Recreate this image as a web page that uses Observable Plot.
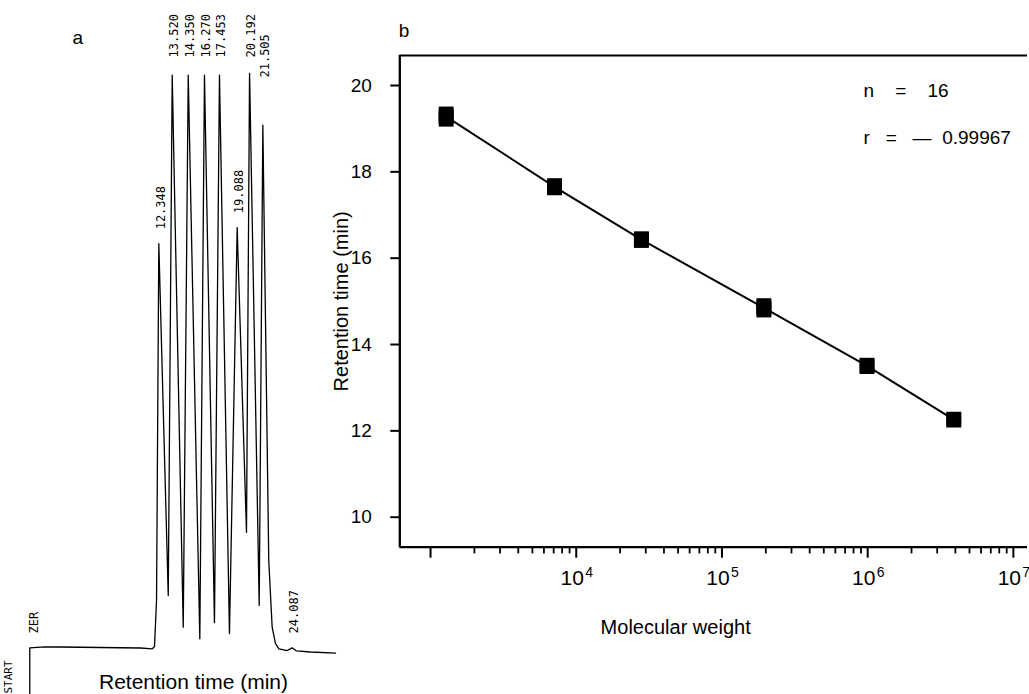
<!DOCTYPE html>
<html>
<head>
<meta charset="utf-8">
<script src="https://cdn.jsdelivr.net/npm/d3@7"></script>
<script src="https://cdn.jsdelivr.net/npm/@observablehq/plot@0.6"></script>
<style>
  html, body { margin: 0; padding: 0; background: #fff; }
  #wrap { position: relative; width: 1029px; height: 694px; overflow: hidden; background: #fff;
          font-family: "Liberation Sans", Arial, Helvetica, sans-serif; }
  #wrap .panel { position: absolute; top: 0; }
</style>
</head>
<body>
<div id="wrap">
  <div id="panelA" class="panel" style="left:0px"></div>
  <div id="panelB" class="panel" style="left:320px"></div>
</div>
<script>
// ---------------- Panel a : chromatogram (integrator trace) ----------------
// retention time (min) and detector signal (% of full scale)
const traceTime   = [0.99, 0.99, 2.30, 3.69, 7.22, 10.74, 11.77, 11.97, 12.15, 12.35, 13.18, 13.53, 14.50, 14.94, 15.96, 16.37, 17.25, 17.69, 18.57, 19.25, 20.07, 20.34, 21.19, 21.51, 22.03, 22.33, 22.62, 22.92, 23.65, 24.09, 24.47, 25.71, 27.91];
const traceSignal = [-8.3, 0.10, 0.30, 0.26, 0.17, 0.09, -0.05, 0.35, 8.4, 70.4, 9.2, 99.7, 3.7, 99.7, 1.7, 99.7, 4.5, 99.7, 2.6, 73.2, 20.2, 100.0, 7.5, 91.0, 15.3, 3.7, 0.9, -0.05, -0.35, 0.12, -0.43, -0.61, -0.82];
// peaks annotated by the integrator: where they sit on the paper, and the printed retention time
const peakTime   = [12.35, 13.53, 14.94, 16.37, 17.69, 19.25, 20.34, 21.51, 24.09];
const peakLabels = ["12.348", "13.520", "14.350", "16.270", "17.453", "19.088", "20.192", "21.505", "24.087"];
const markerLabels = ["START", "ZER"];
const xLabelA = "Retention time (min)";
const panelLetters = ["a", "b"];

// ---------------- Panel b : calibration curve ----------------
const molWeight = [1280, 1280, 1280, 7100, 7100, 7100, 28000, 28000, 28000, 194000, 194000, 194000, 990000, 990000, 3900000, 3900000];
const retTime   = [19.34, 19.28, 19.22, 17.68, 17.65, 17.63, 16.45, 16.43, 16.41, 14.90, 14.85, 14.80, 13.52, 13.49, 12.27, 12.25];
const yTicks = [10, 12, 14, 16, 18, 20];
const xMajorTicks = [1e3, 1e4, 1e5, 1e6, 1e7];
const xLabelledTicks = [1e4, 1e5, 1e6, 1e7];
const xTickBase = "10";
const xTickExponents = ["4", "5", "6", "7"];
const xMinorTicks = [2e3,3e3,4e3,5e3,6e3,7e3,8e3,9e3, 2e4,3e4,4e4,5e4,6e4,7e4,8e4,9e4, 2e5,3e5,4e5,5e5,6e5,7e5,8e5,9e5, 2e6,3e6,4e6,5e6,6e6,7e6,8e6,9e6];
const fitStats = ["n\u00a0\u00a0\u00a0\u00a0=\u00a0\u00a0\u00a0\u00a016", "r\u00a0\u00a0\u00a0=\u00a0\u00a0\u00a0\u2014\u00a0\u00a00.99967"];
const xLabelB = "Molecular weight";
const yLabelB = "Retention time (min)";

// ---------- build panel a ----------
const trace = traceTime.map((t, i) => ({t, s: traceSignal[i]}));
const sig = t => traceSignal[traceTime.indexOf(t)];
const peaks = peakTime.map((t, i) => ({t, s: sig(t), label: peakLabels[i]}));
const labelGap = 2.5; // signal units above the peak
const topRow = 102.8;
// integrator prints labels just above each peak; off-scale peaks get them in the top row,
// and a label squeezed next to a top-row label is dropped just below that row
const peakLabelY = (d, i) => {
  if (d.s >= 99) return topRow;
  const prev = peaks[i - 1];
  if (prev && prev.s >= 99 && d.t - prev.t < 1.5 && d.s > 80) return topRow - 3.5;
  return d.s + labelGap;
};
const peakLabelYs = peaks.map(peakLabelY);

const monoFont = "'DejaVu Sans Mono', 'Liberation Mono', monospace";
const panelA = Plot.plot({
  width: 340, height: 694,
  marginLeft: 0, marginRight: 0, marginTop: 0, marginBottom: 0,
  style: {background: "transparent", overflow: "visible", fontFamily: "'Liberation Sans', Arial, sans-serif"},
  x: {domain: [-1.59, -1.59 + 340 / 11.357], axis: null},
  y: {domain: [-8, 112.7], axis: null},
  marks: [
    Plot.line(trace, {x: "t", y: "s", stroke: "#000", strokeWidth: 1.3, strokeLinejoin: "round"}),
    Plot.text(peaks, {x: "t", y: (d, i) => peakLabelYs[i], text: "label", rotate: -90, textAnchor: "start",
      lineAnchor: "middle", dx: 2, fontSize: 12, fontFamily: monoFont, fill: "#000"}),
    // START marker under the start tick, ZER(O) label next to it
    Plot.text([markerLabels[0]], {x: [traceTime[0]], frameAnchor: "bottom", rotate: -90, textAnchor: "start",
      lineAnchor: "middle", dx: -21, dy: -1, fontSize: 11, fontFamily: monoFont, fill: "#000"}),
    Plot.text([markerLabels[1]], {x: [traceTime[1]], y: [traceSignal[1] + labelGap], rotate: -90, textAnchor: "start",
      lineAnchor: "middle", dx: 4, fontSize: 12, fontFamily: monoFont, fill: "#000"}),
    Plot.text([xLabelA], {frameAnchor: "bottom", dx: 23, dy: -12, lineAnchor: "middle", fontSize: 21, fill: "#000"}),
    Plot.text([panelLetters[0]], {frameAnchor: "top-left", dx: 72, dy: 37, textAnchor: "start", lineAnchor: "middle", fontSize: 19, fill: "#000"})
  ]
});
document.getElementById("panelA").appendChild(panelA);

// ---------- build panel b ----------
const pts = molWeight.map((m, i) => ({mw: m, rt: retTime[i]}));
const xDomain = [Math.pow(10, 2.789), Math.pow(10, 7.097)];
const yDomain = [9.305, 20.695];

const panelB = Plot.plot({
  width: 709, height: 694,
  marginLeft: 79.3, marginRight: 2, marginTop: 55, marginBottom: 147.3,
  style: {background: "transparent", overflow: "visible", fontFamily: "'Liberation Sans', Arial, sans-serif", color: "#000"},
  x: {type: "log", domain: xDomain},
  y: {domain: yDomain},
  marks: [
    Plot.ruleY([yDomain[1]], {stroke: "#000", strokeWidth: 2}),
    Plot.ruleY([yDomain[0]], {stroke: "#000", strokeWidth: 2.3}),
    Plot.ruleX([xDomain[0]], {stroke: "#000", strokeWidth: 2.3}),
    Plot.axisY({ticks: yTicks, tickSize: 9, tickPadding: 19, tickFormat: d => String(d), label: null,
      fontSize: 19, strokeWidth: 2, stroke: "#000", fill: "#000"}),
    Plot.axisX({ticks: xMajorTicks, tickSize: 11, tickFormat: () => "", label: null, strokeWidth: 2, stroke: "#000"}),
    Plot.axisX({ticks: xMinorTicks, tickSize: 6.7, tickFormat: () => "", label: null, strokeWidth: 1.8, stroke: "#000"}),
    // decade labels: "10" with a raised exponent
    Plot.text(xLabelledTicks, {x: d => d, frameAnchor: "bottom", text: () => xTickBase, textAnchor: "middle",
      lineAnchor: "top", dx: -4, dy: 23, fontSize: 21, fill: "#000"}),
    Plot.text(xLabelledTicks, {x: d => d, frameAnchor: "bottom", text: (d, i) => xTickExponents[i], textAnchor: "start",
      lineAnchor: "top", dx: 9, dy: 19.5, fontSize: 14, fill: "#000"}),
    Plot.line(pts, Plot.groupX({y: "mean"}, {x: "mw", y: "rt", stroke: "#000", strokeWidth: 2})),
    Plot.dot(pts, {x: "mw", y: "rt", symbol: "square", r: 8.4, fill: "#000", stroke: "none"}),
    Plot.text([fitStats[0]], {frameAnchor: "top-left", dx: 463.7, dy: 35, textAnchor: "start", lineAnchor: "middle", fontSize: 19, fill: "#000"}),
    Plot.text([fitStats[1]], {frameAnchor: "top-left", dx: 463.7, dy: 82.5, textAnchor: "start", lineAnchor: "middle", fontSize: 19, fill: "#000"}),
    Plot.text([yLabelB], {frameAnchor: "left", rotate: -90, textAnchor: "middle", dx: -58, lineAnchor: "middle", fontSize: 20, fill: "#000"}),
    Plot.text([xLabelB], {frameAnchor: "bottom", dx: -38, dy: 80, lineAnchor: "middle", fontSize: 20, fill: "#000"}),
    Plot.text([panelLetters[1]], {frameAnchor: "top-left", dx: -1, dy: -25, textAnchor: "start", lineAnchor: "middle", fontSize: 19, fill: "#000"})
  ]
});
document.getElementById("panelB").appendChild(panelB);
</script>
</body>
</html>
